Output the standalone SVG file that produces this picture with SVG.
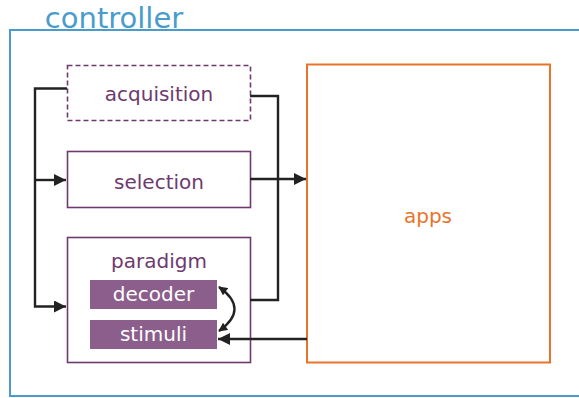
<svg xmlns="http://www.w3.org/2000/svg" width="579" height="398" viewBox="0 0 579 398">
  <defs>
    <marker id="arr" viewBox="0 0 10 10" refX="9" refY="5" markerWidth="10" markerHeight="9" markerUnits="userSpaceOnUse" orient="auto-start-reverse">
      <path d="M0,0 L10,5 L0,10 z" fill="#222"/>
    </marker>
    <marker id="arrL" viewBox="0 0 10 10" refX="10" refY="5" markerWidth="14" markerHeight="12" orient="auto-start-reverse" markerUnits="userSpaceOnUse">
      <path d="M0,0 L10,5 L0,10 z" fill="#222"/>
    </marker>
  </defs>
  <style>
    .lbl { font-family: "DejaVu Sans", "Noto Sans", sans-serif; text-anchor: middle; }
    .box { fill: #fff; stroke: #6e3a6e; stroke-width: 1.6; }
    .mod { fill: #8b5e8b; }
    .wire { fill: none; stroke: #222; stroke-width: 2.4; }
  </style>
  <rect width="579" height="398" fill="#fff"/>

  <g id="controller">
    <rect x="10" y="30" width="580" height="366" fill="none" stroke="#4a9ccc" stroke-width="2"/>
    <text x="114" y="28" class="lbl" font-size="29" fill="#4a9ccc">controller</text>
  </g>

  <g id="acquisition">
    <rect x="67.5" y="65.5" width="183" height="55" class="box" stroke-dasharray="5,3"/>
    <text x="159" y="101" class="lbl" font-size="20" fill="#6e3a6e">acquisition</text>
  </g>

  <g id="selection">
    <rect x="67.5" y="151.5" width="183" height="56" class="box"/>
    <text x="159" y="189" class="lbl" font-size="20" fill="#6e3a6e">selection</text>
  </g>

  <g id="paradigm">
    <rect x="67.5" y="237.5" width="183" height="125" class="box"/>
    <text x="159" y="268" class="lbl" font-size="20" fill="#6e3a6e">paradigm</text>
  </g>

  <g id="decoder">
    <rect x="90" y="280" width="127" height="29" class="mod"/>
    <text x="153.5" y="301" class="lbl" font-size="20" fill="#fff">decoder</text>
  </g>

  <g id="stimuli">
    <rect x="90" y="320" width="127" height="29" class="mod"/>
    <text x="153.5" y="341" class="lbl" font-size="20" fill="#fff">stimuli</text>
  </g>

  <g id="apps">
    <rect x="307" y="64.5" width="243" height="298" fill="#fff" stroke="#e8742c" stroke-width="2"/>
    <text x="428" y="223" class="lbl" font-size="20" fill="#e8742c">apps</text>
  </g>

  <g id="connectors">
    <!-- acquisition fans out to selection and paradigm -->
    <path class="wire" d="M67,88.5 H35 V306.5 H66" marker-end="url(#arrL)"/>
    <path class="wire" d="M35,180 H66" marker-end="url(#arrL)"/>
    <!-- acquisition / selection / paradigm feed apps -->
    <path class="wire" d="M250,96 H278 V300 H250"/>
    <path class="wire" d="M250,179 H306" marker-end="url(#arrL)"/>
    <!-- apps drives stimuli -->
    <path class="wire" d="M307,339 H218" marker-end="url(#arrL)"/>
    <!-- decoder and stimuli exchange -->
    <path class="wire" d="M219,287 Q250,309 219,331" marker-start="url(#arr)" marker-end="url(#arr)"/>
  </g>
</svg>
